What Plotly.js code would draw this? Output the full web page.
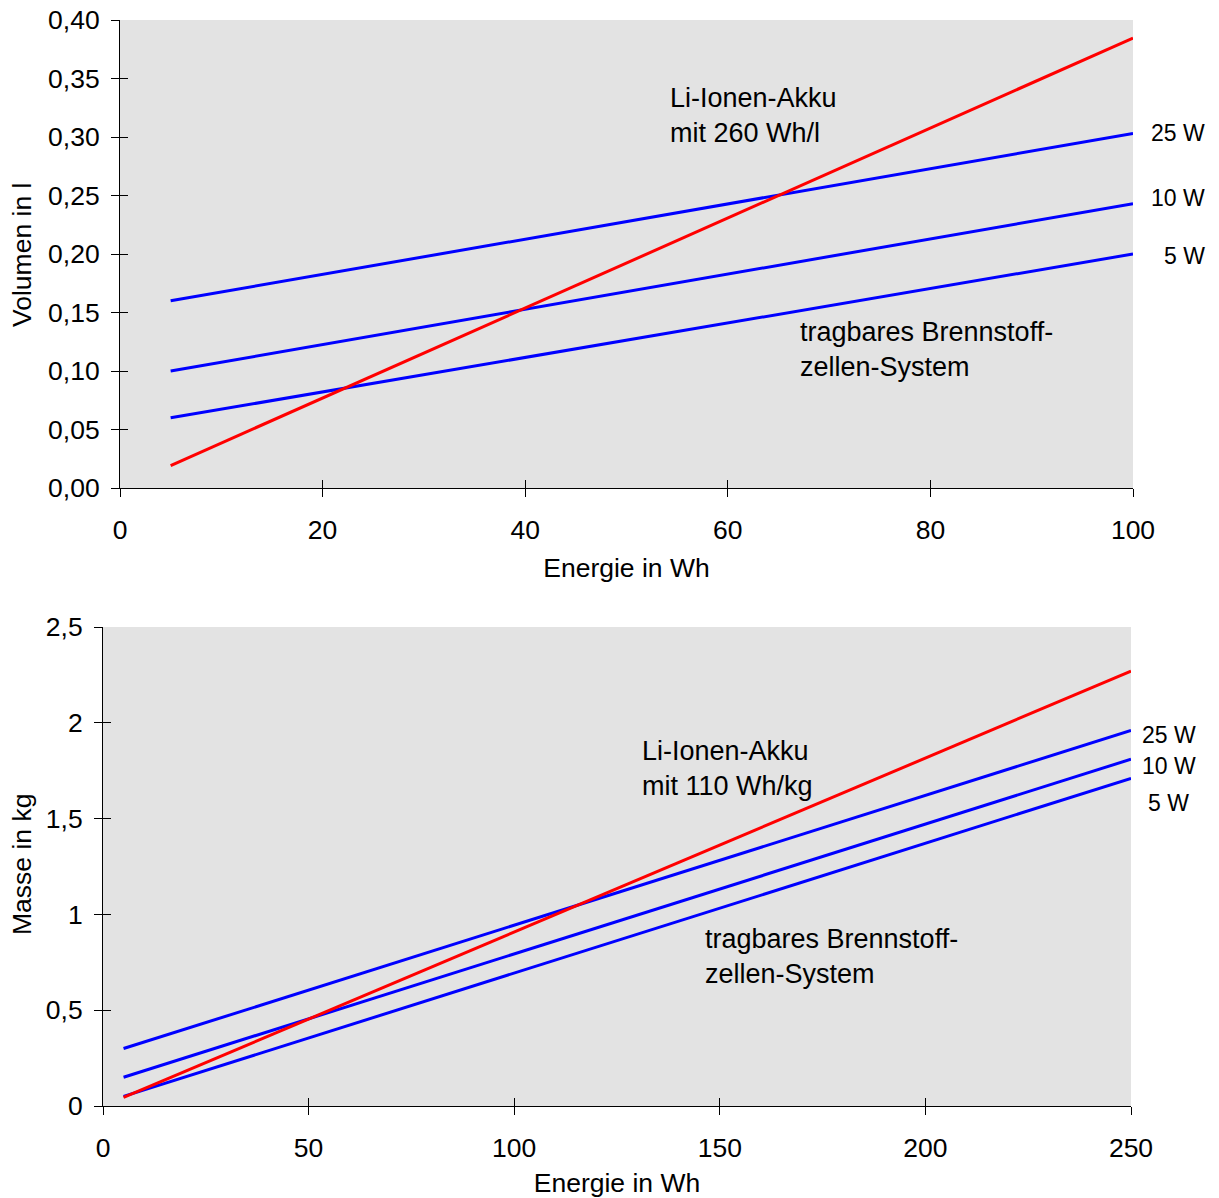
<!DOCTYPE html>
<html><head><meta charset="utf-8">
<script src="https://cdn.plot.ly/plotly-3.0.1.min.js"></script>
<style>body{margin:0;background:#fff}#chart{width:1219px;height:1198px}</style>
</head><body><div id="chart"></div>
<script>
// Top chart: volume vs energy
const energyTop = [5, 100];
const liIonVolume = [0.0192, 0.3846];
const fc25Volume = [0.160, 0.303];
const fc10Volume = [0.100, 0.243];
const fc5Volume = [0.060, 0.200];

// Bottom chart: mass vs energy
const energyBottom = [5, 250];
const liIonMass = [0.045, 2.27];
const fc25Mass = [0.30, 1.96];
const fc10Mass = [0.15, 1.81];
const fc5Mass = [0.05, 1.71];

const powerLabels = ['25 W', '10 W', '5 W'];
const xTicksTop = [0, 20, 40, 60, 80, 100];
const yTicksTop = [0, 0.05, 0.10, 0.15, 0.20, 0.25, 0.30, 0.35, 0.40];
const xTicksBottom = [0, 50, 100, 150, 200, 250];
const yTicksBottom = [0, 0.5, 1, 1.5, 2, 2.5];

const RED = '#ff0000', BLUE = '#0000ff';
const FONT = 'Liberation Sans, Arial, sans-serif';

function line(x, y, color, xa, ya) {
  return {x: x, y: y, type: 'scatter', mode: 'lines', xaxis: xa, yaxis: ya,
          line: {color: color, width: 3}, hoverinfo: 'skip', showlegend: false};
}

const data = [
  line(energyTop, fc25Volume, BLUE, 'x', 'y'),
  line(energyTop, fc10Volume, BLUE, 'x', 'y'),
  line(energyTop, fc5Volume, BLUE, 'x', 'y'),
  line(energyTop, liIonVolume, RED, 'x', 'y'),
  line(energyBottom, fc25Mass, BLUE, 'x2', 'y2'),
  line(energyBottom, fc10Mass, BLUE, 'x2', 'y2'),
  line(energyBottom, fc5Mass, BLUE, 'x2', 'y2'),
  line(energyBottom, liIonMass, RED, 'x2', 'y2'),
  // empty traces binding the inner-tick overlay axes
  {x: [], y: [], type: 'scatter', xaxis: 'x3', yaxis: 'y3', showlegend: false},
  {x: [], y: [], type: 'scatter', xaxis: 'x4', yaxis: 'y4', showlegend: false}
];

const tickFont = {family: FONT, size: 26.5, color: '#000'};
const titleFont = {family: FONT, size: 26.5, color: '#000'};
const annFont = {family: FONT, size: 27, color: '#000'};
const pwrFont = {family: FONT, size: 23, color: '#000'};

const topXDomain = [120/1219, 1133/1219];
const topYDomain = [(1198-488)/1198, (1198-20)/1198];
const botXDomain = [103/1219, 1131/1219];
const botYDomain = [(1198-1106)/1198, (1198-627)/1198];

function baseAxis(extra) {
  return Object.assign({
    showgrid: false, zeroline: false, showline: true, linecolor: '#000', linewidth: 1,
    ticks: 'outside', ticklen: 8, tickcolor: '#000', tickwidth: 1,
    tickfont: tickFont, fixedrange: true
  }, extra);
}

function innerAxis(extra) {
  return Object.assign({showticklabels: false, ticks: 'inside', ticklen: 8, tickcolor: '#000',
    showgrid: false, zeroline: false, showline: false, fixedrange: true}, extra);
}

const layout = {
  width: 1219, height: 1198,
  margin: {l: 0, r: 0, t: 0, b: 0},
  paper_bgcolor: '#ffffff',
  plot_bgcolor: '#e3e3e3',
  separators: ',.',
  showlegend: false,
  font: {family: FONT, color: '#000'},
  xaxis: baseAxis({domain: topXDomain, anchor: 'y', range: [0, 100], tickvals: xTicksTop,
    ticklabelstandoff: 10,
    title: {text: 'Energie in Wh', font: titleFont, standoff: 14}}),
  yaxis: baseAxis({domain: topYDomain, anchor: 'x', range: [0, 0.40], tickvals: yTicksTop,
    tickformat: '.2f', ticklabelstandoff: 6}),
  xaxis2: baseAxis({domain: botXDomain, anchor: 'y2', range: [0, 250], tickvals: xTicksBottom,
    ticklabelstandoff: 10,
    title: {text: 'Energie in Wh', font: titleFont, standoff: 14}}),
  yaxis2: baseAxis({domain: botYDomain, anchor: 'x2', range: [0, 2.5], tickvals: yTicksBottom,
    ticklabelstandoff: 6}),
  xaxis3: innerAxis({overlaying: 'x', anchor: 'y', range: [0, 100], tickvals: xTicksTop}),
  yaxis3: innerAxis({overlaying: 'y', anchor: 'x', range: [0, 0.40], tickvals: yTicksTop}),
  xaxis4: innerAxis({overlaying: 'x2', anchor: 'y2', range: [0, 250], tickvals: xTicksBottom}),
  yaxis4: innerAxis({overlaying: 'y2', anchor: 'x2', range: [0, 2.5], tickvals: yTicksBottom}),
  annotations: [
    {text: 'Volumen in l', xref: 'paper', yref: 'paper', x: 22/1219, y: 1-255/1198, textangle: -90,
     xanchor: 'center', yanchor: 'middle', showarrow: false, font: titleFont},
    {text: 'Masse in kg', xref: 'paper', yref: 'paper', x: 22/1219, y: 1-865/1198, textangle: -90,
     xanchor: 'center', yanchor: 'middle', showarrow: false, font: titleFont},
    {text: 'Li-Ionen-Akku<br>mit 260 Wh/l', xref: 'paper', yref: 'paper', x: 668/1219, y: 1-115/1198,
     xanchor: 'left', yanchor: 'middle', align: 'left', showarrow: false, font: annFont},
    {text: 'tragbares Brennstoff-<br>zellen-System', xref: 'paper', yref: 'paper', x: 798/1219, y: 1-349.5/1198,
     xanchor: 'left', yanchor: 'middle', align: 'left', showarrow: false, font: annFont},
    {text: powerLabels[0], xref: 'paper', yref: 'paper', x: 1207/1219, y: 1-133/1198,
     xanchor: 'right', yanchor: 'middle', showarrow: false, font: pwrFont},
    {text: powerLabels[1], xref: 'paper', yref: 'paper', x: 1207/1219, y: 1-198/1198,
     xanchor: 'right', yanchor: 'middle', showarrow: false, font: pwrFont},
    {text: powerLabels[2], xref: 'paper', yref: 'paper', x: 1207/1219, y: 1-256/1198,
     xanchor: 'right', yanchor: 'middle', showarrow: false, font: pwrFont},
    {text: 'Li-Ionen-Akku<br>mit 110 Wh/kg', xref: 'paper', yref: 'paper', x: 640/1219, y: 1-768.5/1198,
     xanchor: 'left', yanchor: 'middle', align: 'left', showarrow: false, font: annFont},
    {text: 'tragbares Brennstoff-<br>zellen-System', xref: 'paper', yref: 'paper', x: 703/1219, y: 1-956/1198,
     xanchor: 'left', yanchor: 'middle', align: 'left', showarrow: false, font: annFont},
    {text: powerLabels[0], xref: 'paper', yref: 'paper', x: 1198/1219, y: 1-735/1198,
     xanchor: 'right', yanchor: 'middle', showarrow: false, font: pwrFont},
    {text: powerLabels[1], xref: 'paper', yref: 'paper', x: 1198/1219, y: 1-766/1198,
     xanchor: 'right', yanchor: 'middle', showarrow: false, font: pwrFont},
    {text: powerLabels[2], xref: 'paper', yref: 'paper', x: 1191/1219, y: 1-803/1198,
     xanchor: 'right', yanchor: 'middle', showarrow: false, font: pwrFont}
  ]
};

Plotly.newPlot('chart', data, layout, {displayModeBar: false, staticPlot: true});
</script>
</body></html>
